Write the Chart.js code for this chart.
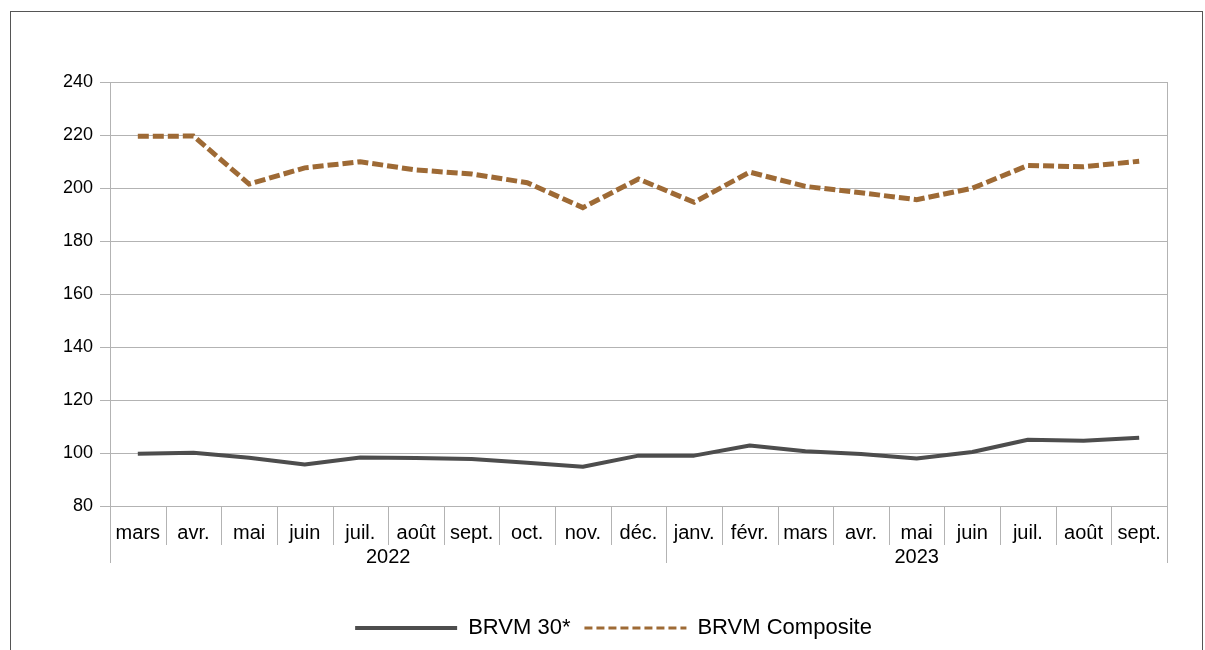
<!DOCTYPE html>
<html><head><meta charset="utf-8">
<script src="https://cdn.jsdelivr.net/npm/chart.js@4/dist/chart.umd.min.js"></script>
<style>
html,body{margin:0;padding:0;background:#fff;}
body{width:1205px;height:650px;overflow:hidden;position:relative;}
#frame{position:absolute;left:10px;top:11px;width:1193px;height:700px;border:1px solid #555;box-sizing:border-box;}
#wrap{position:absolute;left:0;top:0;width:1205px;height:650px;}
</style></head><body>
<div id="frame"></div>
<div id="wrap"><canvas id="c" width="1205" height="650"></canvas></div>
<script>
const months = ['mars','avr.','mai','juin','juil.','août','sept.','oct.','nov.','déc.','janv.','févr.','mars','avr.','mai','juin','juil.','août','sept.'];
const years = ['2022','2023'];
const yearStart = [0, 10];
const yearEnd = [9, 18];
const brvm30 = [99.7, 100.1, 98.2, 95.7, 98.3, 98.1, 97.7, 96.3, 94.8, 99.0, 99.0, 102.8, 100.7, 99.6, 97.9, 100.4, 105.0, 104.6, 105.8];
const brvmComposite = [219.5, 219.6, 201.5, 207.6, 209.9, 206.8, 205.3, 202.0, 192.6, 203.4, 194.6, 206.0, 200.6, 198.2, 195.6, 199.9, 208.5, 208.0, 210.1];
const seriesNames = ['BRVM 30*', 'BRVM Composite'];
const yMin = 80, yMax = 240, yStep = 20;

const FONT = "'Liberation Sans', Arial, sans-serif";
const GRID = '#b3b3b3';

const decor = {
  id: 'decor',
  afterDraw(chart) {
    const {ctx, chartArea: {left, right, top, bottom}, scales: {x}} = chart;
    const n = months.length;
    const bnd = i => {
      if (i <= 0) return left;
      if (i >= n) return right;
      return (x.getPixelForValue(i - 1) + x.getPixelForValue(i)) / 2;
    };
    const px = v => Math.round(v) + 0.5;
    ctx.save();
    ctx.strokeStyle = GRID;
    ctx.lineWidth = 1;
    ctx.beginPath();
    for (let i = 1; i < n; i++) {
      const isYear = yearStart.includes(i);
      ctx.moveTo(px(bnd(i)), bottom);
      ctx.lineTo(px(bnd(i)), bottom + (isYear ? 57 : 39));
    }
    ctx.moveTo(px(left), bottom);
    ctx.lineTo(px(left), bottom + 57);
    ctx.moveTo(px(right), top);
    ctx.lineTo(px(right), bottom + 57);
    ctx.stroke();
    ctx.fillStyle = '#000';
    ctx.font = '20px ' + FONT;
    ctx.textAlign = 'center';
    ctx.textBaseline = 'middle';
    years.forEach((y, k) => {
      const cx = (bnd(yearStart[k]) + bnd(yearEnd[k] + 1)) / 2;
      ctx.fillText(y, cx, bottom + 51);
    });
    ctx.restore();
  }
};

new Chart(document.getElementById('c'), {
  type: 'line',
  data: {
    labels: months,
    datasets: [
      {label: seriesNames[0], data: brvm30, borderColor: '#4d4d4d', backgroundColor: '#4d4d4d', borderWidth: 4, pointRadius: 0, tension: 0, borderJoinStyle: 'round'},
      {label: seriesNames[1], data: brvmComposite, borderColor: '#9e6a35', backgroundColor: '#9e6a35', borderWidth: 5, borderDash: [11, 4], pointRadius: 0, tension: 0}
    ]
  },
  options: {
    responsive: false,
    animation: false,
    devicePixelRatio: 1,
    layout: {padding: {left: 22, right: 0, top: 82, bottom: 1}},
    scales: {
      x: {
        offset: true,
        grid: {display: false},
        border: {display: false},
        ticks: {font: {family: FONT, size: 20}, color: '#000', padding: 7, maxRotation: 0, autoSkip: false},
        afterFit: s => { s.height = 97; }
      },
      y: {
        min: yMin, max: yMax,
        ticks: {stepSize: yStep, font: {family: FONT, size: 18}, color: '#000', padding: 7},
        grid: {color: GRID, tickLength: 10, tickColor: GRID},
        border: {color: GRID},
        afterFit: s => { s.width = 88; }
      },
      yRight: {
        type: 'linear',
        position: 'right',
        min: yMin, max: yMax,
        ticks: {display: false},
        grid: {display: false},
        border: {display: false},
        afterFit: s => { s.width = 38; }
      }
    },
    plugins: {
      tooltip: {enabled: false},
      legend: {
        position: 'bottom',
        labels: {
          font: {family: FONT, size: 22}, color: '#000',
          usePointStyle: true, pointStyle: 'line', pointStyleWidth: 102, padding: 14,
          generateLabels(chart) {
            const items = Chart.defaults.plugins.legend.labels.generateLabels(chart);
            items.forEach((it, i) => {
              it.pointStyle = 'line';
              it.lineWidth = i === 0 ? 4 : 3;
              it.lineDash = i === 1 ? [8, 4] : [];
            });
            return items;
          }
        }
      }
    }
  },
  plugins: [decor]
});
</script>
</body></html>
